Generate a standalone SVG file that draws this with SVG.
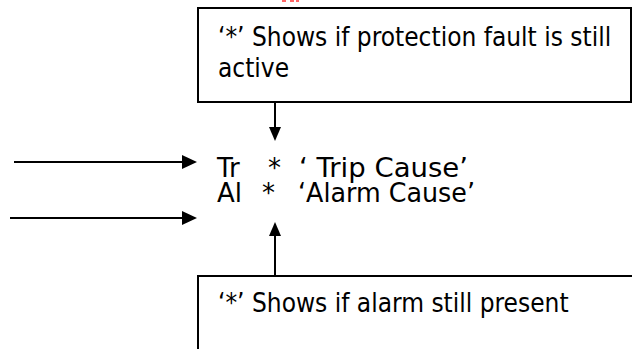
<svg xmlns="http://www.w3.org/2000/svg" width="632" height="349" viewBox="0 0 632 349">
<defs>
<style>
.box{fill:#fff;stroke:#000;stroke-width:2}
.t{font-family:"DejaVu Sans Condensed","DejaVu Sans",sans-serif;font-stretch:condensed;font-size:26px;fill:#000}
.w{font-family:"DejaVu Sans",sans-serif;font-size:26px;fill:#000}
.c{stroke:#000;stroke-width:2;fill:none}
.ah{fill:#000;stroke:none}
</style>
</defs>
<rect width="632" height="349" fill="#fff"/>
<g id="red-mark" fill="#ff6666">
<rect x="282" y="0" width="4" height="2"/>
<rect x="290" y="0" width="4" height="2"/>
<rect x="296" y="0" width="3" height="2"/>
</g>
<g id="node-top">
<rect class="box" x="198" y="8" width="433" height="94"/>
<text class="t" x="218" y="46">‘*’ Shows if protection fault is still</text>
<text class="t" x="218" y="77">active</text>
</g>
<g id="node-bottom">
<rect class="box" x="198" y="276" width="450" height="100"/>
<text class="t" x="218" y="312">‘*’ Shows if alarm still present</text>
</g>
<g id="node-labels">
<text class="w" x="217" y="177">Tr</text>
<text class="w" x="268" y="177">*</text>
<text class="w" x="299" y="177" textLength="169" lengthAdjust="spacingAndGlyphs">‘ Trip Cause’</text>
<text class="w" x="217" y="202">Al</text>
<text class="w" x="262" y="202">*</text>
<text class="w" x="298" y="202" textLength="177" lengthAdjust="spacingAndGlyphs">‘Alarm Cause’</text>
</g>
<g id="connectors">
<line class="c" x1="275" y1="102" x2="275" y2="128"/>
<polygon class="ah" points="269,127 281,127 275,141"/>
<line class="c" x1="14" y1="162" x2="184" y2="162"/>
<polygon class="ah" points="182,155 182,169 197,162"/>
<line class="c" x1="10" y1="218" x2="184" y2="218"/>
<polygon class="ah" points="182,211 182,225 197,218"/>
<line class="c" x1="275" y1="276" x2="275" y2="235"/>
<polygon class="ah" points="269,236 281,236 275,222"/>
</g>
</svg>
